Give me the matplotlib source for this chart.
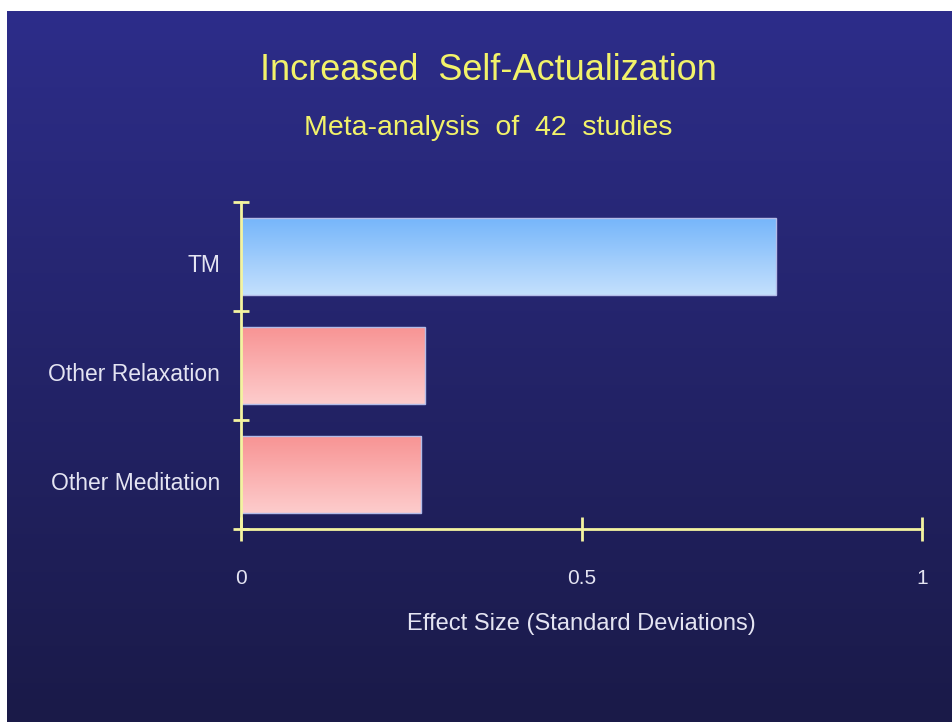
import numpy as np
import matplotlib
matplotlib.use("Agg")
import matplotlib.pyplot as plt
from matplotlib.colors import LinearSegmentedColormap
import matplotlib.transforms as mtransforms

plt.rcParams["font.family"] = ["Liberation Sans", "DejaVu Sans"]

#-Data------------------------------------------------------------------------#
categories = ["TM", "Other Relaxation", "Other Meditation"]
effect_sizes = [0.785, 0.27, 0.265]
bar_kinds = ["tm", "other", "other"]
x_ticks = [0, 0.5, 1]
x_tick_labels = ["0", "0.5", "1"]

title = "Increased  Self-Actualization"
subtitle = "Meta-analysis  of  42  studies"
x_label = "Effect Size (Standard Deviations)"

#-Colours----------------------------------------------------------------------#
bg_top, bg_bottom = "#2d2d8a", "#1a1a48"
yellow = "#f2f26a"
axis_yellow = "#f4f4a0"
label_col = "#e4e4f2"
grads = {
    "tm": ("#76b6fa", "#c4e0fd"),
    "other": ("#f89494", "#fdcccc"),
}

fig = plt.figure(figsize=(9.52, 7.22), dpi=100, facecolor="white")

# background panel (white strip left and top like the slide grab)
bg = fig.add_axes([7 / 952, 0, 1 - 7 / 952, 1 - 11 / 722])
bg_cmap = LinearSegmentedColormap.from_list("bg", [bg_bottom, bg_top])
bg.imshow(np.linspace(0, 1, 256).reshape(-1, 1), cmap=bg_cmap, origin="lower",
          aspect="auto", extent=(0, 1, 0, 1))
bg.set_axis_off()

# main chart axes
ax = fig.add_axes([241 / 952, 1 - 529 / 722, 681 / 952, (529 - 202) / 722])
ax.patch.set_alpha(0)

y_pos = np.arange(len(categories))
bar_h = 0.7
for y, val, kind in zip(y_pos, effect_sizes, bar_kinds):
    top_c, bot_c = grads[kind]
    cmap = LinearSegmentedColormap.from_list(kind, [bot_c, top_c])
    # inverted y axis: y - h/2 is the top of the bar
    ax.imshow(np.linspace(1, 0, 128).reshape(-1, 1), cmap=cmap, aspect="auto",
              extent=(0, val, y + bar_h / 2, y - bar_h / 2), origin="upper",
              zorder=2, interpolation="bicubic")
ax.barh(y_pos, effect_sizes, height=bar_h, facecolor="none",
        edgecolor="#b4bce8", linewidth=1.0, zorder=3)

ax.set_xlim(0, 1)
ax.set_ylim(2.5, -0.5)

for s in ["top", "right"]:
    ax.spines[s].set_visible(False)
for s in ["left", "bottom"]:
    ax.spines[s].set_color(axis_yellow)
    ax.spines[s].set_linewidth(2.0)
    ax.spines[s].set_zorder(4)

ax.set_xticks(x_ticks)
ax.set_xticklabels(x_tick_labels)
ax.tick_params(axis="x", direction="inout", length=17, width=2.0,
               color=axis_yellow, labelcolor=label_col, labelsize=15, pad=20)

ax.set_yticks(y_pos)
ax.set_yticklabels(categories)
ax.set_yticks([-0.5, 0.5, 1.5, 2.5], minor=True)
ax.tick_params(axis="y", which="major", length=0, labelcolor=label_col,
               labelsize=16.5, pad=15)
ax.tick_params(axis="y", which="minor", direction="inout", length=12,
               width=2.0, color=axis_yellow)
offset = mtransforms.ScaledTranslation(0, -5 / 72, fig.dpi_scale_trans)
for lbl in ax.get_yticklabels():
    lbl.set_transform(lbl.get_transform() + offset)

ax.set_xlabel(x_label, color=label_col, fontsize=17, labelpad=18)

fig.text(488 / 952, 1 - 70 / 722, title, color=yellow, fontsize=26,
         ha="center", va="center")
fig.text(488 / 952, 1 - 128 / 722, subtitle, color=yellow, fontsize=20.5,
         ha="center", va="center")

fig.savefig("out.png", dpi=100, facecolor=fig.get_facecolor())
